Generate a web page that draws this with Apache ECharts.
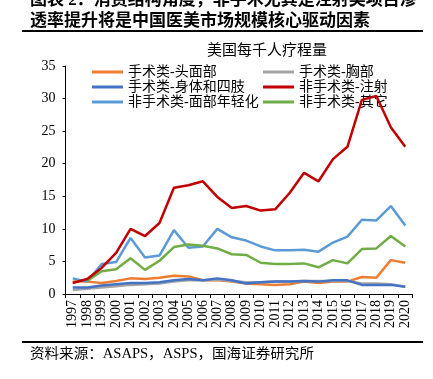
<!DOCTYPE html>
<html><head><meta charset="utf-8">
<script src="https://cdn.jsdelivr.net/npm/echarts@6/dist/echarts.min.js"></script>
<style>html,body{margin:0;padding:0;background:#fff}#c{width:433px;height:379px}</style>
</head><body><div id="c"></div>
<script>
const years = ['1997','1998','1999','2000','2001','2002','2003','2004','2005','2006','2007','2008','2009','2010','2011','2012','2013','2014','2015','2016','2017','2018','2019','2020'];
const yTicks = [0,5,10,15,20,25,30,35];
const names = ['手术类-头面部','手术类-胸部','手术类-身体和四肢','非手术类-注射','非手术类-面部年轻化','非手术类-其它'];
const headFace = [1.9,1.9,1.7,2.0,2.4,2.3,2.5,2.8,2.7,2.1,2.1,1.9,1.6,1.5,1.4,1.5,1.9,1.7,1.9,1.9,2.6,2.5,5.2,4.8];
const breast   = [0.6,0.8,1.0,1.2,1.4,1.5,1.6,1.9,2.1,2.1,2.2,2.0,1.8,1.8,1.9,1.9,2.0,2.0,2.0,2.0,1.6,1.6,1.5,1.1];
const bodyLimb = [1.0,1.0,1.3,1.5,1.7,1.7,1.8,2.1,2.3,2.1,2.4,2.1,1.6,1.8,1.9,1.9,2.0,1.9,2.1,2.1,1.4,1.4,1.4,1.1];
const injection= [1.7,2.3,4.0,6.3,10.0,8.9,10.9,16.3,16.7,17.3,14.9,13.2,13.5,12.8,13.0,15.5,18.6,17.3,20.7,22.6,29.8,30.4,25.6,22.6];
const facialRej= [2.4,1.9,4.6,4.9,8.6,5.6,5.9,9.8,7.1,7.3,10.0,8.7,8.2,7.3,6.7,6.7,6.8,6.5,7.9,8.8,11.4,11.3,13.5,10.5];
const others   = [null,2.0,3.5,3.8,5.5,3.7,5.1,7.2,7.6,7.4,7.0,6.1,6.0,4.8,4.6,4.6,4.7,4.1,5.2,4.7,6.9,7.0,8.9,7.3];
const colors = ['#ED7D31','#A5A5A5','#4472C4','#C00000','#5B9BD5','#70AD47'];
const seriesData = [headFace, breast, bodyLimb, injection, facialRej, others];

const FONT = '"Liberation Serif","Noto Sans CJK SC",serif';
const chart = echarts.init(document.getElementById('c'), null, {renderer:'canvas'});
const legendCommon = {
  orient:'vertical', itemWidth:31, itemHeight:3, icon:'rect', itemGap:1,
  textStyle:{fontFamily:FONT, fontSize:14, color:'#000', lineHeight:14}
};
chart.setOption({
  animation:false,
  backgroundColor:'#fff',
  title:{text:'美国每千人疗程量', left:262, top:39, textAlign:'center',
    textStyle:{fontFamily:FONT, fontSize:15, fontWeight:'normal', color:'#000'}},
  legend:[
    Object.assign({left:87, top:60, data:[names[0],names[2],names[4]]}, legendCommon),
    Object.assign({left:258, top:60, data:[names[1],names[3],names[5]]}, legendCommon)
  ],
  grid:{left:65.5, right:20.5, top:66, bottom:85},
  xAxis:{type:'category', data:years, boundaryGap:true,
    axisLine:{lineStyle:{color:'#000', width:1}},
    axisTick:{show:true, length:4, lineStyle:{color:'#000'}},
    axisLabel:{rotate:90, interval:0, margin:6, fontFamily:FONT, fontSize:14, color:'#000'}},
  yAxis:{type:'value', min:yTicks[0], max:yTicks[yTicks.length-1], interval:5,
    splitLine:{show:false},
    axisLine:{show:true, lineStyle:{color:'#000', width:1}},
    axisTick:{show:true, length:3, lineStyle:{color:'#000'}},
    axisLabel:{margin:10, fontFamily:FONT, fontSize:14, color:'#000'}},
  series: names.map((n,i)=>({
    name:n, type:'line', data:seriesData[i], symbol:'none', smooth:false,
    lineStyle:{color:colors[i], width:2.5}, itemStyle:{color:colors[i]},
    z: i===3 ? 5 : 2
  })),
  graphic:[
    {type:'text', x:30, y:-8, style:{text:'图表 2：消费结构角度，非手术尤其是注射类项目渗', x:0, y:0, textVerticalAlign:'top', fontFamily:FONT, fontSize:17, fontWeight:'bold', fill:'#000'}},
    {type:'text', x:30, y:13, style:{text:'透率提升将是中国医美市场规模核心驱动因素', x:0, y:0, textVerticalAlign:'top', fontFamily:FONT, fontSize:17, fontWeight:'bold', fill:'#000'}},
    {type:'rect', shape:{x:22, y:30, width:401, height:2}, style:{fill:'#000'}},
    {type:'rect', shape:{x:22, y:341, width:401, height:2}, style:{fill:'#000'}},
    {type:'text', x:30, y:347, scaleX:1.04, style:{text:'资料来源：ASAPS，ASPS，国海证券研究所', x:0, y:0, textVerticalAlign:'top', fontFamily:FONT, fontSize:14, fill:'#000'}}
  ]
});
</script></body></html>
